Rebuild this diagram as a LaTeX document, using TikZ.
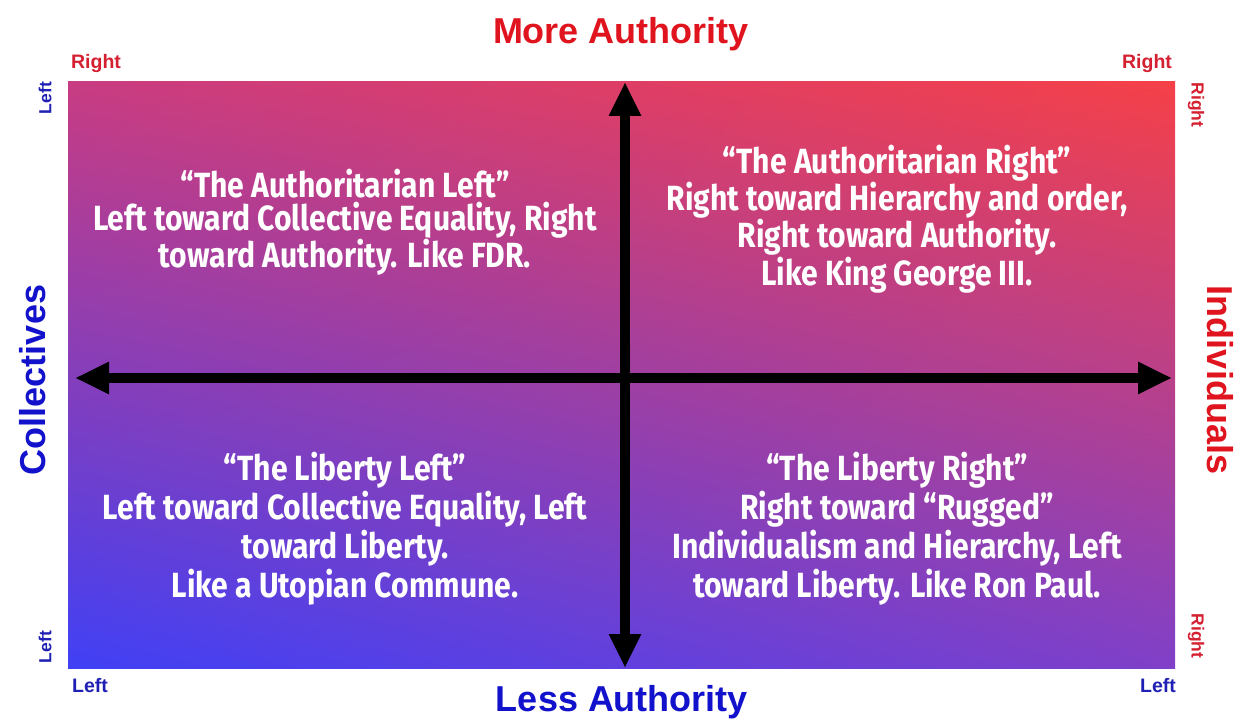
\documentclass[tikz,border=0pt]{standalone}
\usepackage{fontspec}
\setmainfont{Liberation Sans}
\newfontfamily\quadfont[FakeStretch=0.86]{Fira Sans}
\usetikzlibrary{arrows.meta,shadings}
\definecolor{cTL}{HTML}{C83C82}
\definecolor{cTR}{HTML}{F54048}
\definecolor{cBL}{HTML}{4040F5}
\definecolor{cBR}{HTML}{8040C8}
\definecolor{tred}{HTML}{E0141E}
\definecolor{tblue}{HTML}{1212CC}
\definecolor{sred}{HTML}{D42030}
\definecolor{sblue}{HTML}{2020B4}
\tikzset{
  title/.style={font=\bfseries\fontsize{36}{40}\selectfont, inner sep=0pt},
  small/.style={font=\bfseries\fontsize{19.5}{21}\selectfont, inner sep=0pt},
  smallr/.style={font=\bfseries\fontsize{17.5}{19}\selectfont, inner sep=0pt},
  quad/.style={text=white, align=center, inner sep=0pt},
  qa/.style={quad, font=\quadfont\bfseries\fontsize{35}{33}\selectfont},
  qb/.style={quad, font=\quadfont\bfseries\fontsize{35}{35}\selectfont},
  qc/.style={quad, font=\quadfont\bfseries\fontsize{35}{39}\selectfont},
  axisarrow/.style={line width=10pt, black, {Triangle[length=34pt,width=30pt]}-{Triangle[length=34pt,width=30pt]}}
}
\begin{document}
\begin{tikzpicture}[x=1pt,y=-1pt]
\useasboundingbox (0,0) rectangle (1245,719);
\fill[white] (0,0) rectangle (1245,719);
\shade[upper left=cTL, upper right=cTR, lower left=cBL, lower right=cBR] (68,82) rectangle (1175,668);

\coordinate (top) at (625,82);
\coordinate (bot) at (625,668);
\coordinate (lft) at (75,378);
\coordinate (rgt) at (1172,378);
\draw[axisarrow] (bot) -- (top);
\draw[axisarrow] (lft) -- (rgt);

\node[title, text=tred] (more) at (621,34) {More Authority};
\node[title, text=tblue] (less) at (622,702) {Less Authority};
\node[title, text=tblue, rotate=90] (coll) at (33,380) {Collectives};
\node[title, text=tred, rotate=-90] (indiv) at (1220,380) {Individuals};

\node[small, text=sred] (tlr) at (96,64) {Right};
\node[smallr, text=sblue, rotate=90] (tll) at (45,98) {Left};
\node[small, text=sred] (trr) at (1147,64) {Right};
\node[smallr, text=sred, rotate=-90] (trr2) at (1196,105) {Right};
\node[smallr, text=sblue, rotate=90] (bll) at (45,647) {Left};
\node[small, text=sblue] (bll2) at (90,686) {Left};
\node[smallr, text=sred, rotate=-90] (brr) at (1196,636) {Right};
\node[small, text=sblue] (brl) at (1158,686) {Left};

\node[qa] (qtl) at (345,222) {“The Authoritarian Left”\\Left toward Collective Equality, Right\\toward Authority. Like FDR.};
\node[qb] (qtr) at (897,219) {“The Authoritarian Right”\\Right toward Hierarchy and order,\\Right toward Authority.\\Like King George III.};
\node[qc] (qbl) at (345,529) {“The Liberty Left”\\Left toward Collective Equality, Left\\toward Liberty.\\Like a Utopian Commune.};
\node[qc] (qbr) at (897,529) {“The Liberty Right”\\Right toward “Rugged”\\Individualism and Hierarchy, Left\\toward Liberty. Like Ron Paul.};
\end{tikzpicture}
\end{document}
